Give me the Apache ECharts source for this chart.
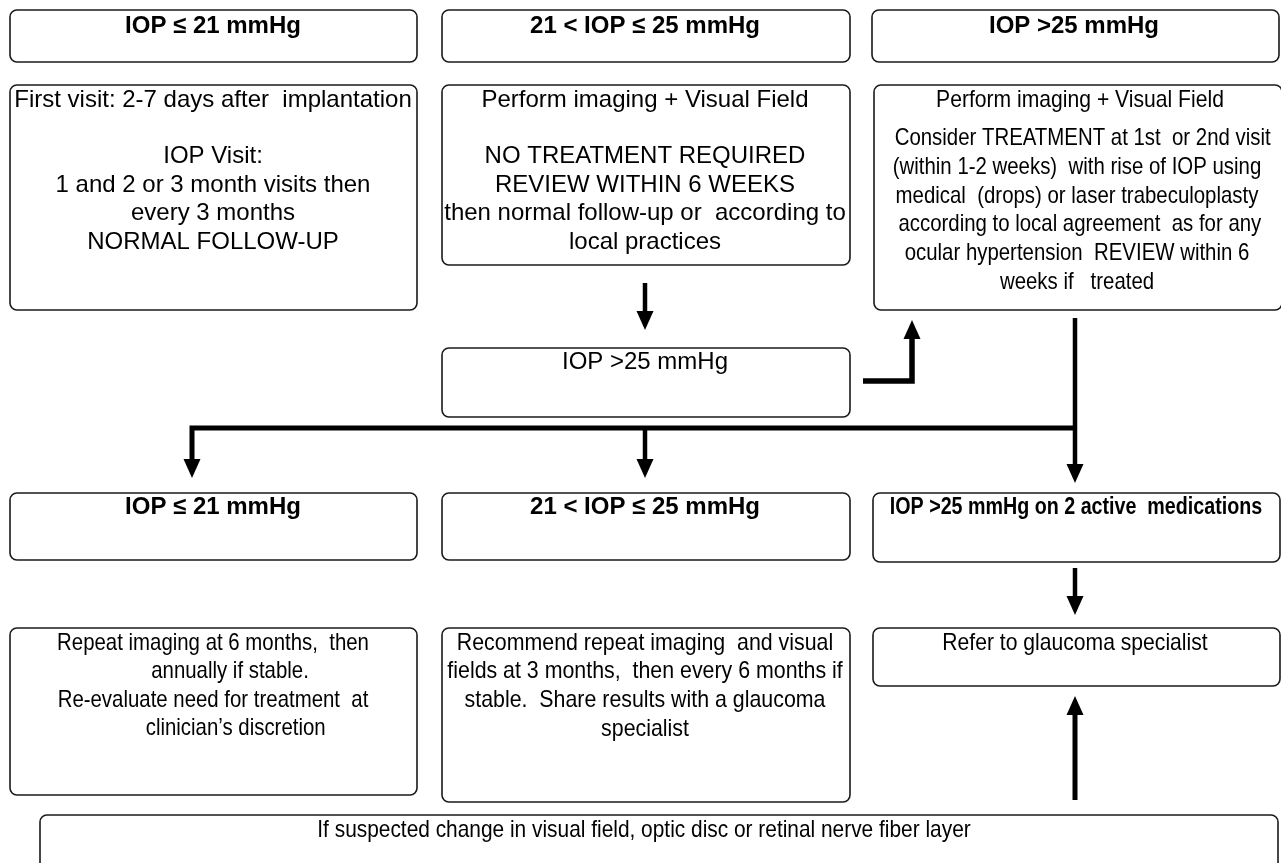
<!DOCTYPE html>
<html>
<head>
<meta charset="utf-8">
<script src="https://cdn.jsdelivr.net/npm/echarts@6/dist/echarts.min.js"></script>
<style>
  html, body { margin: 0; padding: 0; background: #ffffff; }
  #chart { width: 1281px; height: 863px; }
</style>
</head>
<body>
<div id="chart"></div>
<script>
// ---- Content (text of the flowchart) ----
const headerTexts = [
  'IOP ≤ 21 mmHg',
  '21 < IOP ≤ 25 mmHg',
  'IOP >25 mmHg',
  'IOP ≤ 21 mmHg',
  '21 < IOP ≤ 25 mmHg',
  'IOP >25 mmHg on 2 active  medications'
];
const stepTexts = [
  'First visit: 2-7 days after  implantation\n\nIOP Visit:\n1 and 2 or 3 month visits then\nevery 3 months\nNORMAL FOLLOW-UP',
  'Perform imaging + Visual Field\n\nNO TREATMENT REQUIRED\nREVIEW WITHIN 6 WEEKS\nthen normal follow-up or  according to\nlocal practices',
  'Perform imaging + Visual Field',
  '  Consider TREATMENT at 1st  or 2nd visit\n(within 1-2 weeks)  with rise of IOP using\nmedical  (drops) or laser trabeculoplasty\n according to local agreement  as for any\nocular hypertension  REVIEW within 6\nweeks if   treated',
  'IOP >25 mmHg',
  'Repeat imaging at 6 months,  then\n      annually if stable.\nRe-evaluate need for treatment  at\n        clinician’s discretion',
  'Recommend repeat imaging  and visual\nfields at 3 months,  then every 6 months if\nstable.  Share results with a glaucoma\nspecialist',
  'Refer to glaucoma specialist',
  'If suspected change in visual field, optic disc or retinal nerve fiber layer'
];

// ---- Layout (diagram units on hidden axes) ----
const boxRects = [
  [10, 10, 417, 62], [442, 10, 850, 62], [872, 10, 1279, 62],
  [10, 85, 417, 310], [442, 85, 850, 265], [874, 85, 1282, 310],
  [442, 348, 850, 417],
  [10, 493, 417, 560], [442, 493, 850, 560], [873, 493, 1280, 562],
  [10, 628, 417, 795], [442, 628, 850, 802], [873, 628, 1280, 686],
  [40, 815, 1278, 890]
];
// [centerX, firstLineCenterY]
const headerAnchors = [[213, 26], [645, 26], [1074, 26], [213, 507], [645, 507], [1076, 507]];
const headerSqueeze = [1, 1, 1, 1, 1, 0.82];
const stepAnchors = [[213, 100], [645, 100], [1080, 100], [1077, 138.5], [645, 362], [213, 643], [645, 643], [1075, 643], [644, 830]];
const stepLineHeights = [28.4, 28.4, 28.4, 28.7, 28.4, 28.5, 28.8, 28.4, 28.4];
const stepSqueeze = [1, 1, 0.88, 0.85, 1, 0.85, 0.89, 0.88, 0.87];

const connectorPaths = [
  [[645, 283], [645, 330]],
  [[863, 381], [912, 381], [912, 320]],
  [[1075, 318], [1075, 483]],
  [[1075, 428], [192, 428], [192, 478]],
  [[645, 428], [645, 478]],
  [[1075, 568], [1075, 615]],
  [[1075, 800], [1075, 696]]
];
const connectorWidths = [4.5, 5.5, 4.5, 5, 4.5, 4.5, 5];

const FONT_FAMILY = '"Liberation Sans", Arial, Helvetica, sans-serif';

const chart = echarts.init(document.getElementById('chart'), null, { renderer: 'canvas' });

function textEl(api, anchor, text, opts) {
  const p = api.coord(anchor);
  const lh = opts.lineHeight;
  return {
    type: 'text',
    x: p[0],
    y: p[1] - lh / 2,
    scaleX: opts.squeeze,
    scaleY: 1,
    style: {
      text: text,
      font: (opts.bold ? 'bold ' : '') + opts.size + 'px ' + FONT_FAMILY,
      fill: '#000000',
      align: 'center', textAlign: 'center',
      verticalAlign: 'top', textVerticalAlign: 'top',
      lineHeight: lh
    }
  };
}

const option = {
  backgroundColor: '#ffffff',
  animation: false,
  grid: { left: 0, right: 0, top: 0, bottom: 0 },
  xAxis: { type: 'value', min: 0, max: 1281, show: false },
  yAxis: { type: 'value', min: 0, max: 863, inverse: true, show: false },
  series: [
    {
      type: 'custom',
      name: 'boxes',
      clip: false,
      data: boxRects,
      encode: { x: [0, 2], y: [1, 3] },
      renderItem: function (params, api) {
        const a = api.coord([api.value(0), api.value(1)]);
        const b = api.coord([api.value(2), api.value(3)]);
        return {
          type: 'rect',
          shape: { x: a[0], y: a[1], width: b[0] - a[0], height: b[1] - a[1], r: 7 },
          style: { fill: '#ffffff', stroke: '#1a1a1a', lineWidth: 1.6 }
        };
      }
    },
    {
      type: 'custom',
      name: 'connectors',
      clip: false,
      data: connectorPaths.map(p => p[p.length - 1]),
      encode: { x: 0, y: 1 },
      renderItem: function (params, api) {
        const i = params.dataIndex;
        const pts = connectorPaths[i].map(q => api.coord(q));
        const n = pts.length;
        const tip = pts[n - 1];
        const prev = pts[n - 2];
        const dx = tip[0] - prev[0], dy = tip[1] - prev[1];
        const len = Math.sqrt(dx * dx + dy * dy);
        const ux = dx / len, uy = dy / len;
        const headLen = 19, headHalf = 8.5;
        const base = [tip[0] - ux * headLen, tip[1] - uy * headLen];
        const shaft = pts.slice(0, n - 1).concat([[base[0] + ux * 1, base[1] + uy * 1]]);
        return {
          type: 'group',
          children: [
            {
              type: 'polyline',
              shape: { points: shaft },
              style: { stroke: '#000000', lineWidth: connectorWidths[i], fill: null, lineJoin: 'miter', lineCap: 'butt' }
            },
            {
              type: 'polygon',
              shape: {
                points: [
                  tip,
                  [base[0] - uy * headHalf, base[1] + ux * headHalf],
                  [base[0] + uy * headHalf, base[1] - ux * headHalf]
                ]
              },
              style: { fill: '#000000', stroke: null }
            }
          ]
        };
      }
    },
    {
      type: 'custom',
      name: 'headers',
      clip: false,
      data: headerAnchors,
      encode: { x: 0, y: 1 },
      renderItem: function (params, api) {
        const i = params.dataIndex;
        return textEl(api, [api.value(0), api.value(1)], headerTexts[i],
          { bold: true, size: 24, lineHeight: 28, squeeze: headerSqueeze[i] });
      }
    },
    {
      type: 'custom',
      name: 'steps',
      clip: false,
      data: stepAnchors,
      encode: { x: 0, y: 1 },
      renderItem: function (params, api) {
        const i = params.dataIndex;
        return textEl(api, [api.value(0), api.value(1)], stepTexts[i],
          { bold: false, size: 24, lineHeight: stepLineHeights[i], squeeze: stepSqueeze[i] });
      }
    }
  ]
};

chart.setOption(option);
</script>
</body>
</html>
